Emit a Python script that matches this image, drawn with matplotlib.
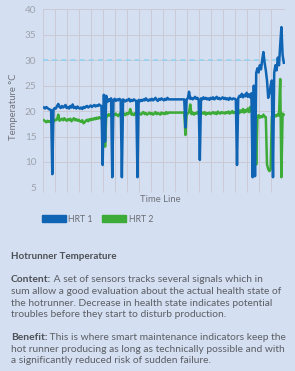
import matplotlib
matplotlib.use('Agg')
import matplotlib.pyplot as plt
from matplotlib.patches import Patch
import numpy as np

# ── Data: sensor readings, one sample per 1/10 grid step ────────────
hrt1_temp = [
    20.7, 20.5, 20.8, 20.6, 20.4, 20.3, 20.2, 7.6, 20.3, 20.6,
    20.5, 21.0, 21.4, 20.8, 20.6, 21.0, 20.7, 20.9, 21.2, 20.6,
    20.8, 20.5, 21.0, 20.7, 21.3, 20.6, 20.8, 20.5, 20.9, 20.6,
    20.5, 20.7, 20.4, 20.8, 20.6, 20.9, 21.0, 20.7, 20.9, 21.1,
    20.8, 21.0, 21.2, 20.9, 21.1, 21.0, 21.3, 21.1, 21.0, 9.4,
    23.2, 14.0, 23.0, 21.8, 22.3, 22.0, 22.5, 7.0, 22.2, 22.4,
    22.0, 22.3, 22.1, 22.4, 22.2, 7.0, 22.3, 22.0, 21.9, 22.2,
    22.1, 22.4, 21.9, 22.2, 22.0, 22.3, 22.1, 22.0, 7.0, 22.2,
    21.9, 22.2, 22.0, 22.3, 22.1, 22.5, 22.2, 22.0, 22.3, 22.1,
    22.4, 22.1, 22.3, 22.6, 22.2, 22.0, 22.4, 22.2, 22.5, 22.3,
    22.1, 22.4, 22.2, 22.6, 22.3, 22.3, 22.3, 22.3, 22.3, 22.3,
    22.3, 22.3, 22.3, 22.3, 22.3, 22.3, 22.3, 22.3, 16.8, 22.3,
    22.5, 23.8, 22.4, 22.6, 22.3, 22.5, 22.8, 22.4, 22.6, 22.3,
    10.4, 22.5, 22.3, 22.7, 22.4, 22.6, 22.3, 22.5, 22.2, 22.6,
    22.4, 22.7, 22.3, 22.5, 22.8, 22.4, 22.6, 22.3, 22.5, 22.7,
    22.4, 22.6, 22.3, 22.5, 22.2, 22.6, 22.4, 22.3, 22.5, 22.4,
    22.3, 9.4, 22.5, 23.0, 22.8, 23.4, 22.7, 23.2, 22.9, 23.6,
    22.8, 23.3, 22.7, 23.5, 7.0, 25.0, 7.2, 27.5, 28.4, 27.6,
    29.0, 28.2, 30.0, 31.6, 29.5, 28.0, 26.0, 22.6, 23.5, 25.0,
    26.0, 7.0, 27.5, 29.0, 28.0, 30.5, 29.0, 33.0, 36.5, 31.0, 29.5,
]

hrt2_temp = [
    18.2, 18.0, 17.8, 18.1, 17.9, 18.0, 17.7, 18.1, 17.9, 18.3,
    18.2, 18.4, 19.3, 18.1, 18.3, 18.5, 18.2, 18.6, 18.3, 18.1,
    18.4, 18.2, 18.5, 18.0, 18.3, 18.6, 18.2, 18.4, 18.1, 18.3,
    18.0, 17.9, 18.2, 17.6, 17.8, 18.1, 18.3, 18.0, 18.4, 18.2,
    18.5, 18.3, 18.6, 18.4, 18.7, 18.5, 18.8, 18.6, 18.5, 18.7,
    18.9, 13.0, 19.2, 19.0, 19.4, 19.1, 19.3, 19.0, 19.4, 19.2,
    19.5, 19.2, 19.0, 19.4, 19.6, 19.3, 19.3, 19.5, 19.2, 19.6,
    19.4, 19.6, 20.4, 19.3, 19.5, 19.2, 19.6, 19.4, 19.3, 19.7,
    19.5, 19.3, 19.6, 19.8, 19.4, 19.6, 19.3, 19.5, 19.7, 19.4,
    19.6, 19.3, 19.5, 19.8, 19.4, 19.6, 19.5, 19.3, 19.7, 19.5,
    19.6, 19.4, 19.8, 19.5, 19.7, 19.7, 19.7, 19.7, 19.7, 19.7,
    19.7, 19.7, 19.7, 19.7, 19.7, 19.7, 19.7, 19.7, 15.3, 19.6,
    19.5, 19.8, 21.3, 19.4, 19.7, 19.3, 19.6, 19.5, 19.8, 19.4,
    19.6, 19.4, 19.7, 19.5, 19.8, 19.3, 19.6, 19.5, 19.7, 19.4,
    19.6, 19.8, 19.5, 19.7, 19.4, 19.9, 19.6, 19.5, 19.8, 19.6,
    19.7, 19.5, 19.8, 19.6, 19.9, 19.5, 19.7, 20.0, 19.6, 19.8,
    19.7, 19.9, 20.3, 19.6, 20.1, 19.8, 20.4, 19.7, 20.2, 19.9,
    20.5, 19.8, 20.8, 19.9, 20.2, 19.5, 20.0, 9.5, 18.8, 19.2,
    18.7, 19.0, 18.8, 19.3, 18.9, 18.8, 9.5, 8.6, 8.2, 8.5,
    18.9, 19.3, 18.8, 19.2, 19.0, 19.4, 19.1, 26.3, 7.0, 19.5, 19.3,
]

series_names = ["HRT 1", "HRT 2"]
limit_temp = 30
y_ticks = [5, 10, 15, 20, 25, 30, 35, 40]

heading = "Hotrunner Temperature"
content_lines = [
    "A set of sensors tracks several signals which in",
    "sum allow a good evaluation about the actual health state of",
    "the hotrunner. Decrease in health state indicates potential",
    "troubles before they start to disturb production.",
]
benefit_lines = [
    "This is where smart maintenance indicators keep the",
    "hot runner producing as long as technically possible and with",
    "a significantly reduced risk of sudden failure.",
]

# ── Style ──────────────────────────────────────────────────────────
BG = '#d4dff1'
BLUE = '#0f64b4'
GREEN = '#3cab37'
GRID = '#cbc9d3'
TEXT = '#5b5e64'
DARK = '#4d5056'
plt.rcParams['font.family'] = ['Lato', 'DejaVu Sans']

W, H = 295, 371
fig = plt.figure(figsize=(W / 100, H / 100), dpi=100, facecolor=BG)
ax = fig.add_axes([42.7 / W, 1 - 187.4 / H, (285 - 42.7) / W, (187.4 - 9.3) / H])
ax.set_facecolor(BG)

samples = np.arange(1, len(hrt1_temp) + 1)
ax.plot(samples, hrt2_temp, color=GREEN, lw=1.8, zorder=3)
ax.plot(samples, hrt1_temp, color=BLUE, lw=1.8, zorder=4)
ax.axhline(limit_temp, color='#94d2f2', lw=1.2, ls=(0, (3, 2.5)), zorder=2)

ax.set_xlim(0, 202)
ax.set_ylim(5, 40)
ax.set_xticks(np.arange(0, 191, 10))
ax.set_xticklabels([])
ax.set_yticks(y_ticks)
ax.tick_params(axis='y', length=0, pad=4.5, labelsize=7.2, labelcolor='#9ea3ab')
ax.tick_params(axis='x', length=3.5, width=0.7, color=GRID, direction='out')
ax.grid(True, color=GRID, lw=0.7)
ax.set_axisbelow(True)
for s in ax.spines.values():
    s.set_visible(False)

fig.text(13 / W, 1 - 107 / H, "Temperature °C", rotation=90, ha='center',
         va='center', fontsize=6.8, color='#70747b')
fig.text(160.4 / W, 1 - 200 / H, "Time Line", ha='center', va='center',
         fontsize=6.8, color='#70747b')

handles = [Patch(color=BLUE), Patch(color=GREEN)]
fig.legend(handles, series_names, loc='center left',
           bbox_to_anchor=(42 / W, 1 - 219 / H), ncol=2, frameon=False,
           fontsize=6.3, handlelength=2.7, handleheight=0.7, handletextpad=0.3,
           columnspacing=1.1, borderpad=0, borderaxespad=0, labelcolor='#6a6d73')

# ── Description text ───────────────────────────────────────────────
x0 = 10.7 / W
fs = 7.35
fig.text(x0, 1 - 256.7 / H, heading, fontsize=7.1, fontweight='bold',
         color=DARK, va='center')


def paragraph(label, lines, y_first):
    for i, line in enumerate(lines):
        y = 1 - (y_first + i * 11.6) / H
        if i == 0:
            t = fig.text(x0, y, label, fontsize=fs, fontweight='bold',
                         color=DARK, va='center')
            ax.annotate(" " + line, xy=(1, 0), xycoords=t, fontsize=fs,
                        color=TEXT, va='bottom', ha='left',
                        annotation_clip=False)
        else:
            fig.text(x0, y, line, fontsize=fs, color=TEXT, va='center')


paragraph("Content:", content_lines, 280)
paragraph("Benefit:", benefit_lines, 337.7)

fig.savefig('out.png', dpi=100, facecolor=BG)
